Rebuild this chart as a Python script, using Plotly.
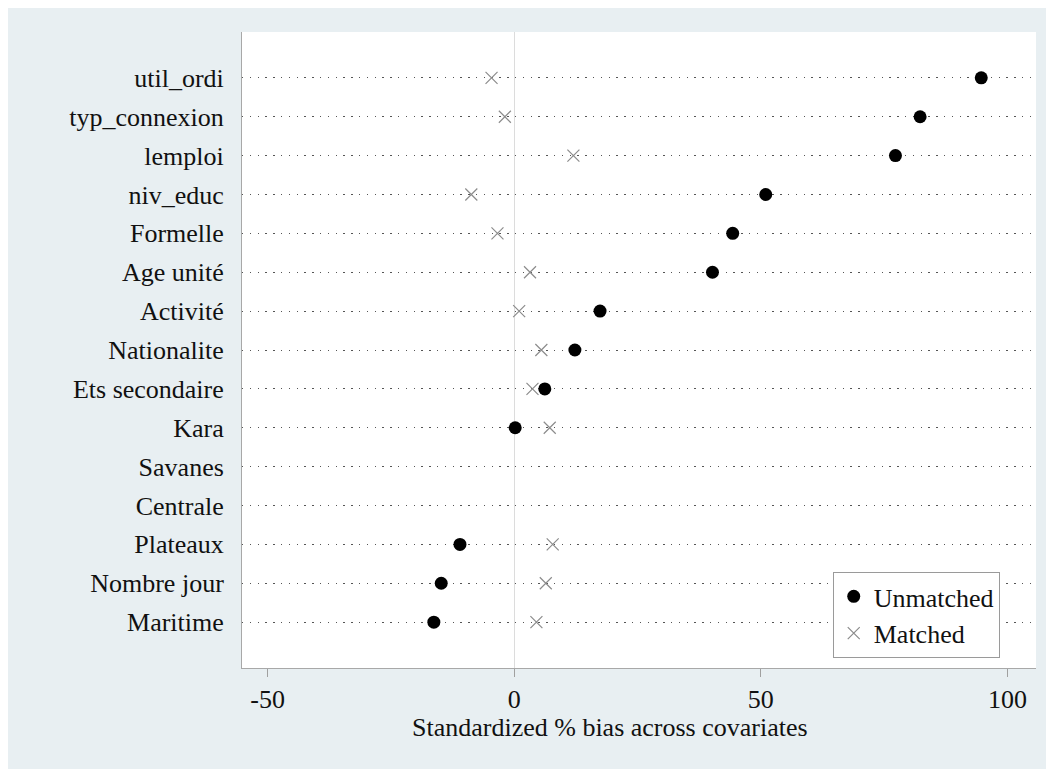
import plotly.graph_objects as go

# Categories listed bottom -> top
variables = ["Maritime", "Nombre jour", "Plateaux", "Centrale", "Savanes", "Kara",
             "Ets secondaire", "Nationalite", "Activité", "Age unité", "Formelle",
             "niv_educ", "lemploi", "typ_connexion", "util_ordi"]

unm_vars = ["Maritime", "Nombre jour", "Plateaux", "Kara", "Ets secondaire", "Nationalite",
            "Activité", "Age unité", "Formelle", "niv_educ", "lemploi", "typ_connexion", "util_ordi"]
unmatched = [-16.3, -14.8, -11.0, 0.2, 6.2, 12.3, 17.4, 40.2, 44.3, 51.0, 77.3, 82.3, 94.7]
matched = [4.5, 6.4, 7.8, 7.2, 3.7, 5.5, 1.0, 3.2, -3.4, -8.7, 12.0, -1.9, -4.6]

x_ticks = [-50, 0, 50, 100]
x_ticktext = ["-50", "0", "50", "100"]

FONT = "Liberation Serif, Times New Roman, serif"
FS = 26
TXT = "#111111"

fig = go.Figure()
fig.add_trace(go.Scatter(
    x=unmatched, y=unm_vars, mode="markers", name="Unmatched",
    marker=dict(symbol="circle", size=13, color="black"),
))
fig.add_trace(go.Scatter(
    x=matched, y=unm_vars, mode="markers", name="Matched",
    marker=dict(symbol="x-thin", size=12, color="rgba(0,0,0,0)",
                line=dict(color="#8c8c8c", width=1.2)),
))

fig.update_layout(
    width=1046, height=761,
    margin=dict(l=234, r=18, t=24, b=101),
    paper_bgcolor="#e8eff2",
    plot_bgcolor="white",
    font=dict(family=FONT, size=FS, color=TXT),
    showlegend=True,
    legend=dict(
        x=0.744, y=0.151, xanchor="left", yanchor="top",
        bgcolor="white", bordercolor="#9a9a9a", borderwidth=1,
        font=dict(family=FONT, size=FS, color=TXT),
        itemwidth=30, tracegroupgap=0,
        entrywidth=185, entrywidthmode="pixels",
    ),
)

fig.update_xaxes(
    range=[-55.2, 105.8],
    tickvals=x_ticks, ticktext=x_ticktext,
    ticks="outside", ticklen=8, tickcolor="#a0a0a0", tickwidth=1,
    showgrid=False,
    zeroline=True, zerolinecolor="#dcdcdc", zerolinewidth=1,
    showline=True, linecolor="#a8a8a8", linewidth=1,
    tickfont=dict(family=FONT, size=FS, color=TXT),
)

fig.update_yaxes(
    type="category",
    categoryorder="array", categoryarray=variables,
    range=[-1.18, 15.18],
    showgrid=True, gridcolor="#555555", gridwidth=1, griddash="1.3px,6.5px",
    ticks="", ticklabelstandoff=12,
    showline=True, linecolor="#a8a8a8", linewidth=1,
    zeroline=False,
    tickfont=dict(family=FONT, size=FS, color=TXT),
)

fig.add_annotation(
    text="Standardized % bias across covariates",
    xref="paper", yref="paper", x=0.4635, y=-0.0943,
    xanchor="center", yanchor="middle", showarrow=False,
    font=dict(family=FONT, size=FS, color=TXT),
)

fig.write_html("out.html")
